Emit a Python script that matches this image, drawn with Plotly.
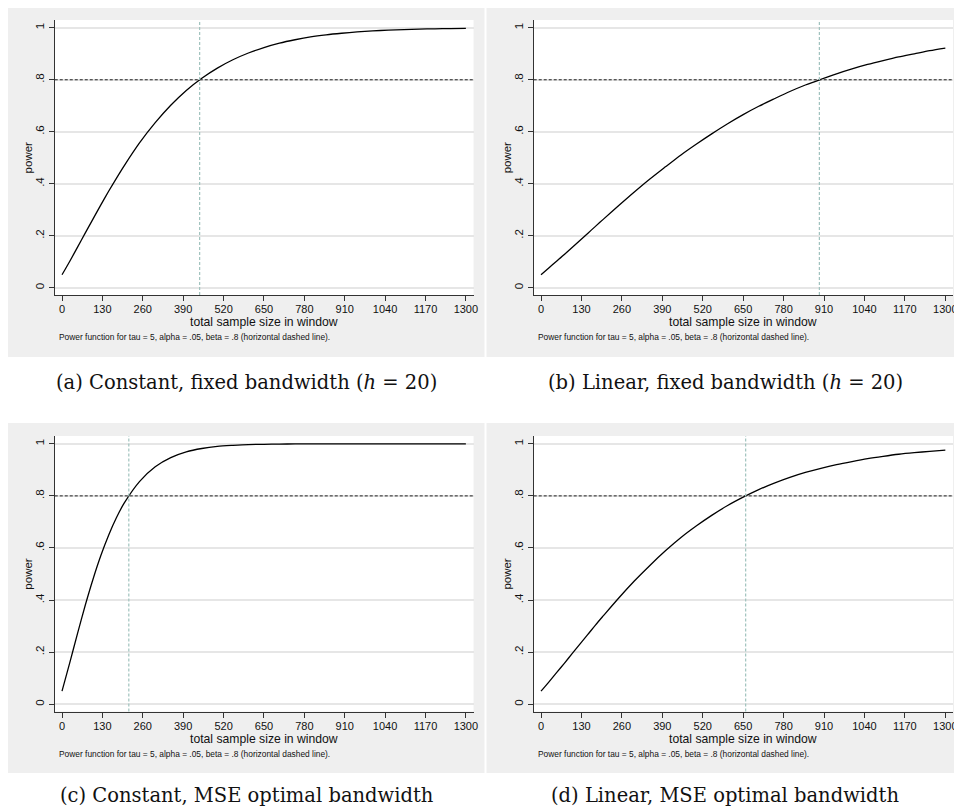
import plotly.graph_objects as go

# The page body has an 8px margin, so the figure is laid out in page pixels minus 8.
OFF = 8
W, H = 962 - OFF, 808 - OFF

# ---- data ----
sample_size = [0, 25, 50, 75, 100, 125, 150, 175, 200, 250, 300, 350, 400, 450, 500,
               550, 600, 650, 700, 750, 800, 850, 900, 950, 1000, 1050, 1100, 1150,
               1200, 1250, 1300]

power_const_fixed = [0.05, 0.102, 0.156, 0.211, 0.265, 0.319, 0.371, 0.421, 0.469, 0.558,
                     0.635, 0.702, 0.759, 0.806, 0.845, 0.877, 0.903, 0.924, 0.941, 0.954,
                     0.965, 0.973, 0.979, 0.984, 0.988, 0.991, 0.993, 0.995, 0.996, 0.997,
                     0.998]
power_linear_fixed = [0.05, 0.076, 0.102, 0.128, 0.155, 0.182, 0.209, 0.236, 0.263, 0.316,
                      0.368, 0.418, 0.465, 0.511, 0.553, 0.593, 0.631, 0.666, 0.698, 0.727,
                      0.755, 0.780, 0.802, 0.823, 0.842, 0.859, 0.874, 0.888, 0.900, 0.912,
                      0.922]
power_const_mse = [0.05, 0.160, 0.272, 0.381, 0.481, 0.571, 0.649, 0.716, 0.772, 0.856,
                   0.912, 0.947, 0.969, 0.982, 0.990, 0.994, 0.997, 0.998, 0.999, 0.9995,
                   0.9997, 0.9998, 0.9999, 1.0, 1.0, 1.0, 1.0, 1.0, 1.0, 1.0, 1.0]
power_linear_mse = [0.05, 0.085, 0.121, 0.157, 0.194, 0.231, 0.267, 0.304, 0.339, 0.408,
                    0.473, 0.533, 0.589, 0.640, 0.685, 0.726, 0.763, 0.795, 0.824, 0.849,
                    0.871, 0.890, 0.906, 0.920, 0.932, 0.943, 0.952, 0.960, 0.966, 0.971,
                    0.976]

required_n = [443, 895, 215, 658]      # vertical dashed lines
target_power = 0.8                     # horizontal dashed line

x_ticks = [0, 130, 260, 390, 520, 650, 780, 910, 1040, 1170, 1300]
y_ticks = [0, 0.2, 0.4, 0.6, 0.8, 1]
y_tick_labels = ["0", ".2", ".4", ".6", ".8", "1"]

captions = ["(a) Constant, fixed bandwidth (<i>h</i> = 20)",
            "(b) Linear, fixed bandwidth (<i>h</i> = 20)",
            "(c) Constant, MSE optimal bandwidth",
            "(d) Linear, MSE optimal bandwidth"]
note = "Power function for tau = 5, alpha = .05, beta = .8 (horizontal dashed line)."
x_title = "total sample size in window"
y_title = "power"

series = [power_const_fixed, power_linear_fixed, power_const_mse, power_linear_mse]

# ---- layout geometry (window pixels) ----
panels = [
    dict(gx0=7, gx1=487, gy0=7, gy1=357, px0=55, px1=476, py0=20, py1=295, cap_x=248, cap_y=382),
    dict(gx0=489, gx1=970, gy0=7, gy1=357, px0=536.5, px1=958, py0=20, py1=295, cap_x=729, cap_y=382),
    dict(gx0=7, gx1=487, gy0=423, gy1=773, px0=55, px1=476, py0=436, py1=711.5, cap_x=248, cap_y=795),
    dict(gx0=489, gx1=970, gy0=423, gy1=773, px0=536.5, px1=958, py0=436, py1=711.5, cap_x=729, cap_y=795),
]

def fx(px):
    return (px - OFF) / W

def fy(py):
    return 1 - (py - OFF) / H

SANS = "Liberation Sans, Arial, sans-serif"
SERIF = "DejaVu Serif, serif"
AXIS_COL = "#333333"

fig = go.Figure()
shapes = []
annotations = []

for i, (p, ys, vx) in enumerate(zip(panels, series, required_n)):
    n = i + 1
    xa = "x" if n == 1 else f"x{n}"
    ya = "y" if n == 1 else f"y{n}"
    fig.add_trace(go.Scatter(
        x=sample_size, y=ys, mode="lines", xaxis=xa, yaxis=ya,
        line=dict(color="black", width=1.3, shape="spline", smoothing=0.8),
        showlegend=False, hoverinfo="x+y", cliponaxis=True))

    xkey = "xaxis" if n == 1 else f"xaxis{n}"
    ykey = "yaxis" if n == 1 else f"yaxis{n}"
    fig.layout[xkey] = dict(
        domain=[max(0, fx(p["px0"])), min(1, fx(p["px1"]))], anchor=ya,
        range=[-23.4, 1324.7], tickmode="array", tickvals=x_ticks,
        ticks="outside", ticklen=5, tickcolor=AXIS_COL, tickwidth=1,
        ticklabelstandoff=-1,
        showline=True, linecolor=AXIS_COL, linewidth=1,
        showgrid=False, zeroline=False,
        tickfont=dict(family=SANS, size=11, color="#111"))
    fig.layout[ykey] = dict(
        domain=[fy(p["py1"]), fy(p["py0"])], anchor=xa,
        range=[-0.028, 1.03], tickmode="array", tickvals=y_ticks, ticktext=y_tick_labels,
        tickangle=-90, ticks="outside", ticklen=5, tickcolor=AXIS_COL, tickwidth=1,
        showline=True, linecolor=AXIS_COL, linewidth=1,
        showgrid=True, gridcolor="#e6e6e6", gridwidth=1.5, zeroline=False,
        tickfont=dict(family=SANS, size=11.5, color="#111"))

    # gray panel background
    shapes.append(dict(type="rect", xref="paper", yref="paper",
                       x0=max(0, fx(p["gx0"])), x1=min(1, fx(p["gx1"])),
                       y0=fy(p["gy1"]), y1=min(1, fy(p["gy0"])),
                       fillcolor="#efefef", line=dict(width=0), layer="below"))
    # white plot region
    shapes.append(dict(type="rect", xref="paper", yref="paper",
                       x0=fx(p["px0"]), x1=min(1, fx(p["px1"])), y0=fy(p["py1"]), y1=fy(p["py0"]),
                       fillcolor="white", line=dict(width=0), layer="below"))
    # horizontal dashed line at target power
    shapes.append(dict(type="line", xref=f"{xa} domain", yref=ya,
                       x0=0, x1=1, y0=target_power, y1=target_power,
                       line=dict(color="#222222", width=1, dash="3px,2px")))
    # vertical dashed line at required sample size
    shapes.append(dict(type="line", xref=xa, yref=f"{ya} domain",
                       x0=vx, x1=vx, y0=0, y1=1,
                       line=dict(color="#9fc2bd", width=1.2, dash="3px,2px")))

    # axis titles and note
    annotations.append(dict(text=y_title, xref="paper", yref="paper",
                            x=fx(p["px0"] - 27), y=fy((p["py0"] + p["py1"]) / 2),
                            textangle=-90, showarrow=False, xanchor="center", yanchor="middle",
                            font=dict(family=SANS, size=11.5, color="#111")))
    annotations.append(dict(text=x_title, xref="paper", yref="paper",
                            x=fx((p["px0"] + p["px1"]) / 2), y=fy(p["py1"] + 27.5),
                            showarrow=False, xanchor="center", yanchor="middle",
                            font=dict(family=SANS, size=12.2, color="#111")))
    annotations.append(dict(text=note, xref="paper", yref="paper",
                            x=fx(p["px0"] + 2), y=fy(p["py1"] + 42),
                            showarrow=False, xanchor="left", yanchor="middle",
                            font=dict(family=SANS, size=8.4, color="#111")))
    annotations.append(dict(text=captions[i], xref="paper", yref="paper",
                            x=fx(p["cap_x"]), y=fy(p["cap_y"]),
                            showarrow=False, xanchor="center", yanchor="middle",
                            font=dict(family=SERIF, size=19.5, color="#111")))

fig.update_layout(
    width=W, height=H, margin=dict(l=0, r=0, t=0, b=0),
    paper_bgcolor="white", plot_bgcolor="rgba(0,0,0,0)",
    shapes=shapes, annotations=annotations, showlegend=False)

fig.write_html("out.html")
